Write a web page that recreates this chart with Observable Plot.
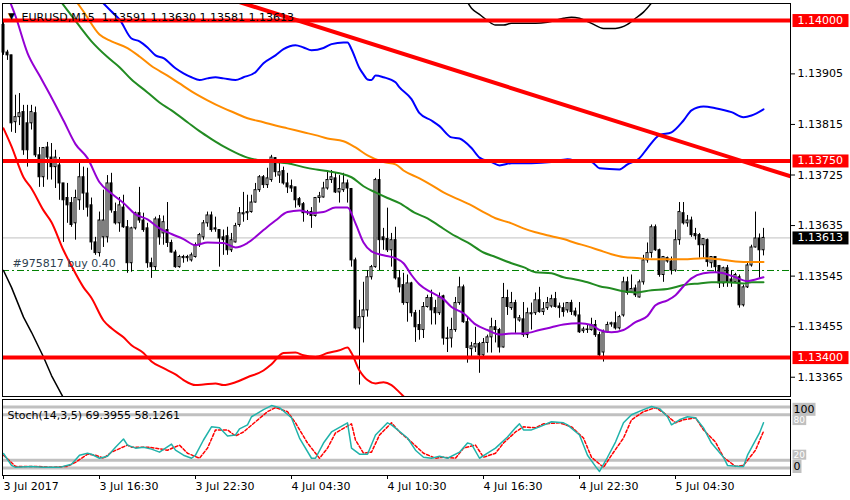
<!DOCTYPE html>
<html><head><meta charset="utf-8">
<script src="https://cdn.jsdelivr.net/npm/d3@7"></script>
<script src="https://cdn.jsdelivr.net/npm/@observablehq/plot@0.6"></script>
<style>
body{margin:0;background:#fff;}
#chart{position:relative;width:850px;height:500px;overflow:hidden;background:#fff;}
#chart svg{position:absolute;left:0;}
</style></head><body><div id="chart"></div>
<script>
// ---------- data (EURUSD M15, bar 0 = 3 Jul 2017 10:30) ----------
const symbol = "EURUSD,M15";
const barOpen = [1.13992,1.13943,1.13938,1.13819,1.13828,1.13837,1.13817,1.13817,1.13835,1.13760,
1.13721,1.13774,1.13756,1.13739,1.13742,1.13710,1.13684,1.13675,1.13639,1.13680,
1.13721,1.13692,1.13671,1.13605,1.13586,1.13614,1.13614,1.13710,1.13659,1.13639,
1.13667,1.13632,1.13568,1.13630,1.13657,1.13644,1.13630,1.13568,1.13561,1.13646,
1.13621,1.13627,1.13604,1.13587,1.13561,1.13577,1.13577,1.13573,1.13579,1.13600,
1.13614,1.13639,1.13653,1.13630,1.13627,1.13614,1.13616,1.13591,1.13605,1.13636,
1.13655,1.13657,1.13659,1.13676,1.13698,1.13721,1.13707,1.13716,1.13755,1.13724,
1.13732,1.13710,1.13705,1.13703,1.13682,1.13673,1.13657,1.13659,1.13652,1.13684,
1.13685,1.13701,1.13716,1.13719,1.13694,1.13698,1.13710,1.13700,1.13573,1.13452,
1.13472,1.13484,1.13543,1.13561,1.13716,1.13614,1.13611,1.13591,1.13609,1.13541,
1.13529,1.13497,1.13532,1.13479,1.13458,1.13449,1.13490,1.13506,1.13488,1.13479,
1.13509,1.13434,1.13434,1.13449,1.13497,1.13525,1.13463,1.13415,1.13418,1.13424,
1.13404,1.13426,1.13436,1.13454,1.13449,1.13418,1.13506,1.13488,1.13497,1.13466,
1.13468,1.13440,1.13477,1.13479,1.13502,1.13481,1.13488,1.13491,1.13504,1.13491,
1.13488,1.13484,1.13497,1.13482,1.13475,1.13447,1.13449,1.13449,1.13458,1.13440,
1.13409,1.13445,1.13459,1.13461,1.13452,1.13475,1.13534,1.13516,1.13523,1.13507,
1.13534,1.13573,1.13586,1.13632,1.13591,1.13547,1.13577,1.13571,1.13555,1.13609,
1.13657,1.13639,1.13644,1.13620,1.13618,1.13600,1.13609,1.13568,1.13579,1.13563,
1.13532,1.13559,1.13539,1.13534,1.13543,1.13493,1.13525,1.13564,1.13596,1.13612,
1.13591];
const barHigh = [1.13997,1.13947,1.13938,1.13867,1.13870,1.13849,1.13849,1.13849,1.13846,1.13774,
1.13774,1.13783,1.13781,1.13769,1.13756,1.13710,1.13710,1.13685,1.13698,1.13748,
1.13739,1.13737,1.13684,1.13614,1.13659,1.13698,1.13724,1.13728,1.13675,1.13685,
1.13689,1.13644,1.13632,1.13659,1.13703,1.13657,1.13639,1.13577,1.13650,1.13653,
1.13652,1.13676,1.13609,1.13591,1.13582,1.13582,1.13582,1.13586,1.13604,1.13621,
1.13644,1.13659,1.13659,1.13650,1.13627,1.13627,1.13632,1.13621,1.13639,1.13667,
1.13694,1.13689,1.13689,1.13710,1.13724,1.13724,1.13737,1.13760,1.13756,1.13751,
1.13739,1.13728,1.13716,1.13703,1.13685,1.13676,1.13662,1.13667,1.13685,1.13694,
1.13712,1.13730,1.13733,1.13728,1.13724,1.13728,1.13716,1.13701,1.13577,1.13502,
1.13534,1.13555,1.13564,1.13719,1.13735,1.13630,1.13666,1.13621,1.13632,1.13555,
1.13550,1.13547,1.13534,1.13484,1.13484,1.13498,1.13511,1.13520,1.13502,1.13515,
1.13511,1.13454,1.13470,1.13507,1.13543,1.13529,1.13472,1.13427,1.13454,1.13427,
1.13434,1.13440,1.13470,1.13466,1.13452,1.13532,1.13520,1.13516,1.13502,1.13475,
1.13498,1.13488,1.13497,1.13515,1.13525,1.13498,1.13507,1.13511,1.13516,1.13497,
1.13497,1.13498,1.13502,1.13488,1.13498,1.13454,1.13458,1.13470,1.13466,1.13445,
1.13449,1.13463,1.13463,1.13481,1.13475,1.13543,1.13543,1.13547,1.13529,1.13538,
1.13582,1.13604,1.13636,1.13636,1.13593,1.13580,1.13579,1.13579,1.13627,1.13676,
1.13676,1.13653,1.13650,1.13630,1.13621,1.13612,1.13611,1.13579,1.13579,1.13564,
1.13561,1.13564,1.13555,1.13550,1.13547,1.13529,1.13568,1.13600,1.13659,1.13620,
1.13630];
const barLow = [1.13938,1.13929,1.13801,1.13799,1.13813,1.13760,1.13739,1.13805,1.13756,1.13703,
1.13703,1.13716,1.13716,1.13701,1.13680,1.13605,1.13639,1.13632,1.13609,1.13662,
1.13662,1.13650,1.13591,1.13582,1.13579,1.13596,1.13604,1.13657,1.13636,1.13623,
1.13630,1.13550,1.13552,1.13627,1.13639,1.13623,1.13559,1.13541,1.13555,1.13600,
1.13600,1.13596,1.13586,1.13559,1.13559,1.13568,1.13570,1.13570,1.13577,1.13596,
1.13609,1.13632,1.13623,1.13623,1.13561,1.13582,1.13582,1.13587,1.13604,1.13632,
1.13641,1.13644,1.13657,1.13675,1.13694,1.13701,1.13701,1.13712,1.13721,1.13710,
1.13707,1.13692,1.13694,1.13666,1.13667,1.13641,1.13653,1.13630,1.13650,1.13675,
1.13684,1.13698,1.13710,1.13692,1.13675,1.13694,1.13675,1.13561,1.13449,1.13351,
1.13426,1.13472,1.13538,1.13559,1.13555,1.13591,1.13587,1.13561,1.13538,1.13515,
1.13493,1.13463,1.13472,1.13427,1.13431,1.13434,1.13488,1.13458,1.13458,1.13475,
1.13422,1.13409,1.13417,1.13445,1.13493,1.13461,1.13390,1.13399,1.13409,1.13372,
1.13399,1.13408,1.13408,1.13426,1.13408,1.13417,1.13475,1.13484,1.13443,1.13463,
1.13436,1.13434,1.13449,1.13475,1.13479,1.13475,1.13484,1.13488,1.13488,1.13470,
1.13472,1.13479,1.13475,1.13472,1.13443,1.13443,1.13443,1.13447,1.13436,1.13401,
1.13392,1.13443,1.13454,1.13449,1.13449,1.13472,1.13511,1.13515,1.13507,1.13506,
1.13529,1.13568,1.13577,1.13589,1.13543,1.13534,1.13568,1.13547,1.13552,1.13600,
1.13636,1.13632,1.13614,1.13609,1.13577,1.13577,1.13561,1.13559,1.13550,1.13523,
1.13525,1.13525,1.13525,1.13532,1.13488,1.13490,1.13523,1.13561,1.13595,1.13541,
1.13581];
const barClose = [1.13943,1.13938,1.13817,1.13828,1.13835,1.13769,1.13769,1.13837,1.13760,1.13721,
1.13773,1.13756,1.13739,1.13756,1.13710,1.13680,1.13671,1.13636,1.13684,1.13721,
1.13692,1.13667,1.13605,1.13586,1.13644,1.13644,1.13710,1.13662,1.13639,1.13671,
1.13632,1.13568,1.13630,1.13657,1.13644,1.13627,1.13568,1.13561,1.13646,1.13614,
1.13641,1.13604,1.13587,1.13561,1.13579,1.13579,1.13579,1.13582,1.13600,1.13618,
1.13639,1.13653,1.13627,1.13628,1.13612,1.13609,1.13591,1.13609,1.13634,1.13657,
1.13657,1.13659,1.13676,1.13698,1.13721,1.13707,1.13719,1.13756,1.13730,1.13730,
1.13710,1.13703,1.13701,1.13680,1.13671,1.13657,1.13659,1.13652,1.13684,1.13687,
1.13701,1.13716,1.13721,1.13694,1.13700,1.13710,1.13701,1.13573,1.13452,1.13472,
1.13484,1.13543,1.13561,1.13716,1.13609,1.13609,1.13591,1.13609,1.13541,1.13525,
1.13497,1.13532,1.13479,1.13454,1.13449,1.13490,1.13506,1.13484,1.13479,1.13507,
1.13434,1.13433,1.13449,1.13497,1.13525,1.13463,1.13417,1.13420,1.13424,1.13404,
1.13426,1.13436,1.13454,1.13449,1.13418,1.13506,1.13490,1.13497,1.13470,1.13470,
1.13440,1.13479,1.13479,1.13502,1.13481,1.13486,1.13497,1.13504,1.13490,1.13488,
1.13481,1.13497,1.13481,1.13475,1.13445,1.13450,1.13450,1.13458,1.13440,1.13404,
1.13445,1.13458,1.13461,1.13452,1.13472,1.13534,1.13515,1.13522,1.13511,1.13534,
1.13573,1.13586,1.13632,1.13591,1.13547,1.13579,1.13571,1.13555,1.13609,1.13659,
1.13639,1.13644,1.13618,1.13616,1.13600,1.13611,1.13570,1.13579,1.13561,1.13532,
1.13559,1.13534,1.13534,1.13547,1.13493,1.13525,1.13564,1.13596,1.13612,1.13591,
1.13613];

// indicator lines, [bar, price]
const maPurple = [[0,1.14061],[3,1.14008],[6,1.13942],[9,1.13902],[12,1.13863],[15,1.13822],[18,1.13780],[21,1.13755],[24,1.13712],[27,1.13692],[30,1.13675],[33,1.13655],[36,1.13646],[39,1.13630],[42,1.13620],[45,1.13611],[48,1.13600],[51,1.13605],[55,1.13604],[58,1.13596],[61,1.13604],[65,1.13627],[68,1.13644],[71,1.13659],[74,1.13662],[77,1.13657],[80,1.13659],[83,1.13667],[86,1.13667],[88,1.13639],[90,1.13605],[92,1.13589],[95,1.13582],[98,1.13577],[100,1.13568],[102,1.13547],[104,1.13530],[107,1.13516],[110,1.13504],[112,1.13490],[115,1.13479],[118,1.13459],[121,1.13449],[124,1.13441],[127,1.13443],[130,1.13443],[134,1.13449],[137,1.13454],[140,1.13459],[144,1.13461],[147,1.13458],[149,1.13449],[152,1.13445],[155,1.13449],[158,1.13463],[161,1.13474],[163,1.13493],[166,1.13502],[168,1.13511],[170,1.13527],[172,1.13541],[175,1.13550],[178,1.13552],[180,1.13550],[183,1.13543],[186,1.13536],[188,1.13539],[190,1.13543]];
const maGreen = [[12,1.14056],[16,1.14018],[19,1.13990],[22,1.13963],[26,1.13935],[29,1.13917],[32,1.13895],[36,1.13872],[39,1.13854],[42,1.13840],[46,1.13819],[49,1.13803],[52,1.13789],[55,1.13776],[58,1.13765],[61,1.13756],[64,1.13751],[68,1.13748],[71,1.13746],[75,1.13739],[78,1.13735],[81,1.13732],[84,1.13728],[87,1.13721],[90,1.13705],[93,1.13694],[96,1.13684],[99,1.13675],[103,1.13657],[106,1.13648],[109,1.13634],[113,1.13616],[116,1.13605],[120,1.13587],[123,1.13579],[127,1.13568],[130,1.13561],[133,1.13552],[137,1.13550],[140,1.13543],[143,1.13539],[146,1.13534],[149,1.13527],[152,1.13523],[155,1.13518],[158,1.13516],[162,1.13520],[166,1.13522],[170,1.13529],[174,1.13532],[177,1.13534],[181,1.13534],[185,1.13532],[187,1.13534],[190,1.13534]];
const maOrange = [[16,1.14056],[20,1.14016],[24,1.13975],[27,1.13963],[31,1.13951],[34,1.13936],[37,1.13919],[41,1.13902],[44,1.13888],[47,1.13874],[51,1.13858],[55,1.13844],[58,1.13835],[61,1.13826],[65,1.13819],[68,1.13813],[71,1.13808],[75,1.13801],[78,1.13796],[81,1.13790],[85,1.13785],[88,1.13774],[91,1.13760],[95,1.13748],[98,1.13744],[100,1.13733],[104,1.13719],[107,1.13707],[110,1.13694],[113,1.13684],[117,1.13671],[120,1.13659],[123,1.13648],[127,1.13639],[130,1.13630],[133,1.13623],[137,1.13616],[140,1.13611],[143,1.13604],[146,1.13598],[149,1.13591],[152,1.13584],[155,1.13579],[159,1.13577],[162,1.13575],[166,1.13575],[170,1.13575],[175,1.13577],[179,1.13575],[183,1.13571],[187,1.13570],[190,1.13570]];
const bandUpper = [[23,1.14045],[27,1.14016],[29,1.14002],[32,1.13968],[34,1.13963],[36,1.13952],[38,1.13938],[40,1.13933],[43,1.13915],[45,1.13906],[47,1.13899],[49,1.13894],[51,1.13897],[53,1.13899],[55,1.13897],[58,1.13894],[60,1.13899],[63,1.13908],[65,1.13924],[68,1.13938],[70,1.13949],[73,1.13956],[75,1.13952],[77,1.13947],[80,1.13951],[82,1.13958],[85,1.13961],[86,1.13961],[87,1.13949],[89,1.13915],[90,1.13904],[91,1.13895],[92,1.13894],[93,1.13902],[95,1.13899],[98,1.13890],[99,1.13881],[102,1.13860],[104,1.13835],[107,1.13822],[109,1.13812],[112,1.13792],[114,1.13790],[117,1.13773],[119,1.13756],[122,1.13748],[124,1.13742],[127,1.13746],[132,1.13746],[137,1.13748],[141,1.13753],[144,1.13749],[147,1.13748],[149,1.13737],[154,1.13735],[156,1.13744],[159,1.13755],[161,1.13773],[164,1.13796],[167,1.13801],[170,1.13822],[172,1.13840],[175,1.13847],[178,1.13844],[182,1.13837],[185,1.13828],[187,1.13831],[190,1.13842]];
const bandLower = [[0,1.13808],[2,1.13776],[5,1.13721],[7,1.13701],[10,1.13662],[12,1.13641],[15,1.13591],[17,1.13563],[20,1.13525],[22,1.13506],[25,1.13466],[27,1.13452],[30,1.13436],[32,1.13422],[35,1.13408],[37,1.13393],[40,1.13381],[43,1.13370],[45,1.13360],[48,1.13351],[50,1.13352],[53,1.13354],[55,1.13351],[58,1.13356],[61,1.13365],[65,1.13377],[67,1.13388],[70,1.13408],[73,1.13409],[75,1.13404],[78,1.13401],[81,1.13408],[84,1.13413],[86,1.13418],[87,1.13408],[89,1.13377],[90,1.13367],[91,1.13360],[93,1.13354],[95,1.13356],[97,1.13351],[99,1.13338],[101,1.13324],[103,1.13310]];
const longLower = [[0,1.13555],[2,1.13525],[5,1.13472],[7,1.13445],[10,1.13401],[12,1.13368],[15,1.13328],[17,1.13306]];
const longUpper = [[115,1.14045],[117,1.14022],[119,1.14011],[121,1.14000],[123,1.13992],[125,1.13992],[127,1.13995],[130,1.13995],[133,1.13995],[136,1.13997],[140,1.14004],[142,1.14006],[144,1.14004],[147,1.13995],[150,1.13986],[153,1.13986],[156,1.13993],[158,1.14004],[160,1.14015],[162,1.14031],[164,1.14050]];

// drawn objects
const levels = [1.14000, 1.13750, 1.13400];
const trend = [[58, 1.14035], [197, 1.13722]];
const currentPrice = 1.13613;
const orderPrice = 1.13555;
const orderLabel = "#975817 buy 0.40";
const priceTicks = [1.13905, 1.13815, 1.13725, 1.13635, 1.13545, 1.13455, 1.13365];

// stochastic
const stochLastK = 69.3955, stochLastD = 58.1261;
const stochK = [[0,28.9],[2,13.3],[3,10.7],[7,12],[10,10.7],[14,10.7],[17,14.7],[19,26.7],[21,29.3],[22,28],[24,22.7],[26,25.3],[28,37.3],[30,48],[31,40],[33,36],[35,37.3],[37,34.7],[39,30.7],[42,41.3],[43,33.3],[45,26.7],[47,22.7],[48,26.7],[50,46.7],[52,64],[54,62.7],[56,52],[58,53.3],[59,61.3],[61,66.7],[62,77.3],[65,86.7],[67,92],[69,89.3],[72,76],[74,49.3],[77,22.7],[78,22.7],[80,42.7],[82,57.3],[86,69.3],[87,36],[89,28],[91,28],[93,53.3],[96,69.3],[97,66.7],[101,49.3],[103,33.3],[105,24],[107,22.7],[109,25.3],[111,22.7],[114,30.7],[116,42.7],[117,41.3],[119,22.7],[121,29.3],[123,36],[126,50.7],[128,62.7],[129,68],[130,60],[132,60],[134,64],[137,70.7],[140,69.3],[141,66.7],[144,53.3],[146,26.7],[148,12],[149,5.3],[151,24],[153,44],[155,69.3],[157,80],[160,86.7],[162,90.7],[164,88],[166,77.3],[167,66.7],[169,73.3],[171,77.3],[173,76],[175,62.7],[177,42.7],[180,24],[181,13.3],[184,12],[185,12],[186,26.7],[189,56],[190,stochLastK]];
const stochD = [[0,26.7],[3,12],[8,12],[12,10.7],[16,12],[18,17.3],[21,28],[23,26.7],[25,22.7],[27,30.7],[31,40],[32,37.3],[36,37.3],[38,36],[41,33.3],[44,40],[46,29.3],[49,22.7],[51,36],[53,60],[56,60],[58,52],[60,57.3],[63,70.7],[66,84],[68,89.3],[71,84],[73,69.3],[76,42.7],[79,22.7],[81,36],[83,56],[87,68],[88,46.7],[90,29.3],[92,30.7],[94,53.3],[97,69.3],[99,57.3],[102,44],[105,29.3],[108,22.7],[110,24],[113,22.7],[115,36],[118,40],[120,24],[123,29.3],[125,42.7],[128,57.3],[130,64],[133,62.7],[135,68],[139,69.3],[142,64],[145,49.3],[147,24],[150,10.7],[152,26.7],[155,49.3],[157,73.3],[160,84],[163,89.3],[165,82.7],[168,69.3],[170,73.3],[173,76],[175,60],[178,44],[180,24],[183,12],[185,13.3],[188,33.3],[190,stochLastD]];
const stochLevels = [90, 80, 20, 10];
const stochUpperLabel = 80, stochLowerLabel = 20;
const stochMax = 100, stochMin = 0;

const timeTickBars = [0, 24, 48, 72, 96, 120, 144, 168];
const timeLabels = ["3 Jul 2017","3 Jul 16:30","3 Jul 22:30","4 Jul 04:30","4 Jul 10:30","4 Jul 16:30","4 Jul 22:30","5 Jul 04:30"];

// ---------- drawing ----------
const candles = barOpen.map((o, i) => ({i, o, h: barHigh[i], l: barLow[i], c: barClose[i]}));
const last = candles[candles.length - 1];
const fmt5 = d3.format(".5f");
const font = {fontFamily: "'DejaVu Sans', sans-serif", fontSize: "11px", color: "black"};
const xDomain = [-0.25, 196.75];
const P = {x: d => d[0], y: d => d[1]};

const main = Plot.plot({
  width: 850, height: 397,
  marginLeft: 2, marginRight: 60, marginTop: 3, marginBottom: 1,
  style: {...font, background: "white"},
  x: {domain: xDomain, axis: null},
  y: {domain: [1.133307, 1.140303]},
  marks: [
    Plot.ruleY([currentPrice], {stroke: "#c0c0c0"}),
    Plot.ruleY([orderPrice], {stroke: "#008000", strokeDasharray: "7,3,2,3"}),
    Plot.ruleX(candles, {x: "i", y1: "l", y2: "h", stroke: "black"}),
    Plot.rect(candles, {x1: d => d.i - 0.25, x2: d => d.i + 0.25, y1: "o", y2: "c",
      fill: d => d.c >= d.o ? "white" : "black", stroke: "black"}),
    Plot.line(longLower, {...P, stroke: "black", strokeWidth: 1.5, clip: true}),
    Plot.line(longUpper, {...P, stroke: "black", strokeWidth: 1.5, clip: true, curve: "monotone-x"}),
    Plot.line(bandLower, {...P, stroke: "#ff0000", strokeWidth: 2, clip: true, curve: "monotone-x"}),
    Plot.line(bandUpper, {...P, stroke: "#0000ff", strokeWidth: 2, clip: true, curve: "monotone-x"}),
    Plot.line(maOrange, {...P, stroke: "#ff8c00", strokeWidth: 2, clip: true, curve: "monotone-x"}),
    Plot.line(maGreen, {...P, stroke: "#228b22", strokeWidth: 2, clip: true, curve: "monotone-x"}),
    Plot.line(maPurple, {...P, stroke: "#9400d3", strokeWidth: 2, clip: true, curve: "monotone-x"}),
    Plot.ruleY(levels, {stroke: "#ff0000", strokeWidth: 4}),
    Plot.line(trend, {...P, stroke: "#ff0000", strokeWidth: 4, clip: true}),
    Plot.text([orderLabel], {y: orderPrice, text: d => d, frameAnchor: "left", dx: 10, dy: -7, textAnchor: "start", fill: "#2f3f4f"}),
    Plot.frame({stroke: "black"}),
    Plot.axisY({anchor: "right", ticks: priceTicks, tickFormat: fmt5, tickSize: 4, tickPadding: 3}),
    Plot.text(levels, {y: d => d, text: d => fmt5(d), frameAnchor: "right", dx: 7, textAnchor: "start", fill: "white"}),
    Plot.text([currentPrice], {y: d => d, text: d => fmt5(d), frameAnchor: "right", dx: 7, textAnchor: "start", fill: "white"}),
    Plot.text(["\u25BC"], {text: d => d, frameAnchor: "top-left", dx: 9, dy: 9, fontSize: 9, textAnchor: "middle"}),
    Plot.text([`${symbol}\u00a0 ${fmt5(last.o)} ${fmt5(last.h)} ${fmt5(last.l)} ${fmt5(last.c)}`],
      {text: d => d, frameAnchor: "top-left", dx: 19, dy: 9.5, textAnchor: "start"})
  ]
});

const stoch = Plot.plot({
  width: 850, height: 104,
  marginLeft: 2, marginRight: 60, marginTop: 3, marginBottom: 25,
  style: {...font, background: "transparent"},
  x: {domain: xDomain},
  y: {domain: [stochMin, stochMax], axis: null},
  marks: [
    Plot.ruleY(stochLevels, {stroke: "#c0c0c0", strokeWidth: 3}),
    Plot.line(stochD, {...P, stroke: "#ff0000", strokeDasharray: "3,2", clip: true}),
    Plot.line(stochK, {...P, stroke: "#20b2aa", clip: true}),
    Plot.frame({stroke: "black"}),
    Plot.axisX({ticks: timeTickBars, tickFormat: d => timeLabels[timeTickBars.indexOf(d)], textAnchor: "start", tickSize: 4, tickPadding: 3}),
    Plot.text([stochUpperLabel], {y: d => d, text: d => String(d), frameAnchor: "right", dx: 3, dy: 5.5, fontSize: 9, textAnchor: "start", fill: "white"}),
    Plot.text([stochLowerLabel], {y: d => d, text: d => String(d), frameAnchor: "right", dx: 3, dy: -5.5, fontSize: 9, textAnchor: "start", fill: "white"}),
    Plot.text([String(stochMax)], {text: d => d, frameAnchor: "top-right", dx: 3, dy: 5.5, textAnchor: "start"}),
    Plot.text([String(stochMin)], {text: d => d, frameAnchor: "bottom-right", dx: 3, dy: -5.5, textAnchor: "start"}),
    Plot.text([`Stoch(14,3,5) ${stochLastK.toFixed(4)} ${stochLastD.toFixed(4)}`], {text: d => d, frameAnchor: "top-left", dx: 5, dy: 12, textAnchor: "start"})
  ]
});

const chart = document.getElementById("chart");
main.style.top = "0px";
stoch.style.top = "396px";
chart.appendChild(main);
chart.appendChild(stoch);

function addBoxes(svg, labels, colorOf, fixedWidth) {
  svg.querySelectorAll("text").forEach(t => {
    const s = t.textContent;
    if (!labels.includes(s)) return;
    const b = t.getBBox();
    const r = document.createElementNS("http://www.w3.org/2000/svg", "rect");
    const tr = t.getAttribute("transform");
    if (tr) r.setAttribute("transform", tr);
    r.setAttribute("x", b.x - (fixedWidth ? 5 : 1));
    r.setAttribute("y", b.y);
    r.setAttribute("width", fixedWidth || b.width + 2);
    r.setAttribute("height", b.height);
    r.setAttribute("fill", colorOf(s));
    r.setAttribute("stroke", "none");
    t.parentNode.insertBefore(r, t);
  });
}
addBoxes(main, levels.map(fmt5).concat([fmt5(currentPrice)]),
  s => s === fmt5(currentPrice) ? "black" : "#ff0000", 56);
addBoxes(stoch, [String(stochUpperLabel), String(stochLowerLabel), String(stochMax), String(stochMin)], () => "#c0c0c0", 0);
</script></body></html>
